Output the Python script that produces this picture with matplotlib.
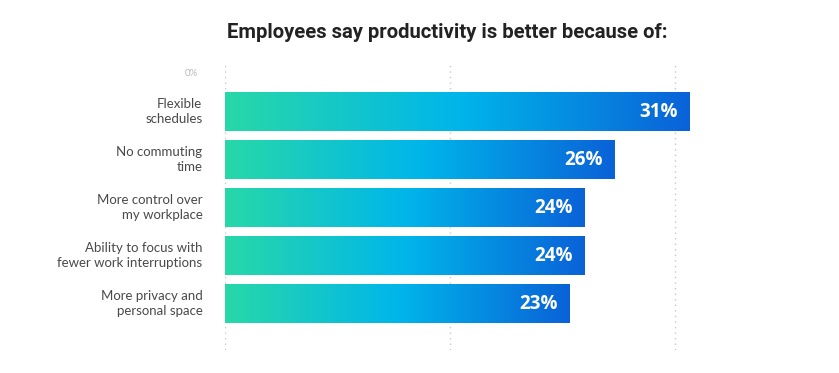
import numpy as np
import matplotlib
matplotlib.use("Agg")
import matplotlib.pyplot as plt
from matplotlib.colors import LinearSegmentedColormap

categories = ["Flexible\nschedules", "No commuting\ntime", "More control over\nmy workplace",
              "Ability to focus with\nfewer work interruptions", "More privacy and\npersonal space"]
values = [31, 26, 24, 24, 23]
grid_ticks = [0, 15, 30]
title = "Employees say productivity is better because of:"

W, H = 839, 373
fig = plt.figure(figsize=(W / 100, H / 100), dpi=100)
fig.patch.set_facecolor("white")

x0_px, px_per = 225, 15.0
xmax = 32.5
ax_left = x0_px / W
ax_width = xmax * px_per / W
top_px, bot_px = 62, 350
ax = fig.add_axes([ax_left, 1 - bot_px / H, ax_width, (bot_px - top_px) / H])

c0, sp = 111.5, 48.0
for s in ax.spines.values():
    s.set_visible(False)
ax.set_xticks([]); ax.set_yticks([])

for g in grid_ticks:
    ax.axvline(g, color="#c8c8c8", lw=1.0, ls=(0, (1, 3)), zorder=0)

cmap = LinearSegmentedColormap.from_list("g", ["#28d8a8", "#00b6ea", "#0a62d8"])
grad = np.linspace(0, 1, 256).reshape(1, -1)
bh = 0.81
for i, v in enumerate(values):
    ax.imshow(grad, cmap=cmap, extent=[0, v, i + bh / 2, i - bh / 2], aspect="auto", zorder=2,
              interpolation="bicubic")
    ax.text(v - 0.8, i + 0.02, f"{v}%", ha="right", va="center", color="white",
            fontsize=13.5, fontweight="bold", family="Open Sans", zorder=3)
    ax.text(-1.5, i, categories[i], ha="right", va="center", color="#4a4a4a",
            fontsize=9.5, family="Lato", linespacing=1.25)
ax.set_xlim(0, xmax)
ax.set_ylim((bot_px - c0) / sp, -(c0 - top_px) / sp)

ax.text(-1.8, -0.8, "0%", ha="right", va="center", color="#b8b8b8", fontsize=7, family="Lato")

fig.text(447 / W, 1 - 33 / H, title, ha="center", va="center", fontsize=14.6,
         fontweight="bold", color="#222222", family="Roboto")

fig.savefig("out.png", dpi=100)
